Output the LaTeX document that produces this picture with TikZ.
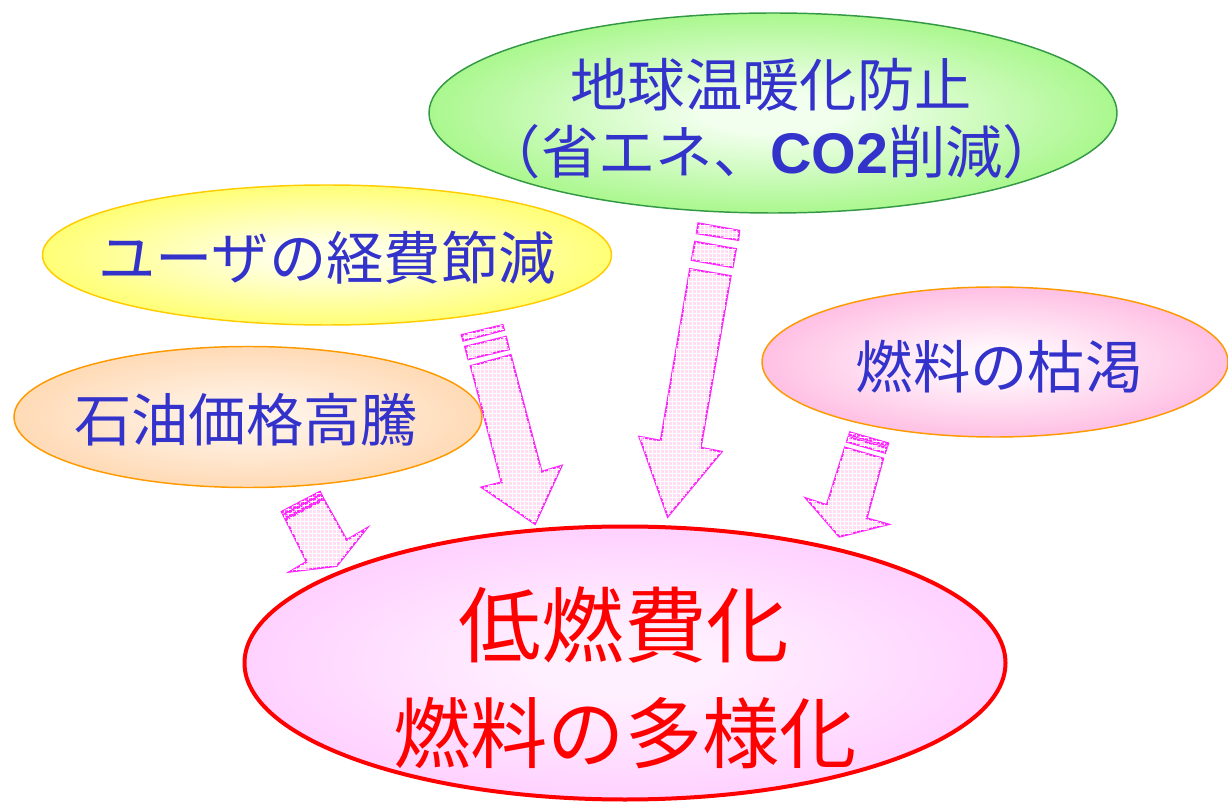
\documentclass[tikz,border=0pt]{standalone}
\usepackage{fontspec}
\newfontfamily\jp{Noto Sans CJK JP}
\newfontfamily\lat{Liberation Sans}
\usetikzlibrary{shapes.geometric,patterns}
\definecolor{txtblue}{HTML}{3333CC}
\definecolor{arrMag}{HTML}{FF22FF}
\definecolor{arrFill}{HTML}{FFDDF2}
\definecolor{gIn}{HTML}{F2FFEE}\definecolor{gOut}{HTML}{66F033}\definecolor{gBorder}{HTML}{339944}
\definecolor{yIn}{HTML}{FFFFE6}\definecolor{yOut}{HTML}{FFFF22}\definecolor{yBorder}{HTML}{FFCC00}
\definecolor{oIn}{HTML}{FFF2E6}\definecolor{oOut}{HTML}{FFC488}\definecolor{oBorder}{HTML}{FF9900}
\definecolor{pIn}{HTML}{FFF6FC}\definecolor{pOut}{HTML}{FF8CCC}\definecolor{pBorder}{HTML}{FF9900}
\definecolor{bIn}{HTML}{FFF0FF}\definecolor{bOut}{HTML}{FFA8FF}\definecolor{bBorder}{HTML}{FF0000}
\pgfdeclareradialshading{shG}{\pgfpointorigin}{color(0bp)=(gIn); color(5bp)=(gIn); color(44bp)=(gOut); color(100bp)=(gOut)}
\pgfdeclareradialshading{shY}{\pgfpointorigin}{color(0bp)=(yIn); color(5bp)=(yIn); color(40bp)=(yOut); color(100bp)=(yOut)}
\pgfdeclareradialshading{shO}{\pgfpointorigin}{color(0bp)=(oIn); color(5bp)=(oIn); color(44bp)=(oOut); color(100bp)=(oOut)}
\pgfdeclareradialshading{shP}{\pgfpointorigin}{color(0bp)=(pIn); color(5bp)=(pIn); color(44bp)=(pOut); color(100bp)=(pOut)}
\pgfdeclareradialshading{shB}{\pgfpointorigin}{color(0bp)=(bIn); color(6bp)=(bIn); color(50bp)=(bOut); color(100bp)=(bOut)}
\tikzset{
  ell/.style={ellipse, inner sep=0pt, outer sep=0pt},
  txt/.style={font=\jp\fontsize{43}{48}\selectfont, text=txtblue, inner sep=0pt},
  redtxt/.style={text=red, inner sep=0pt},
  blockarrow/.style={draw=arrMag, line width=1.4pt, line join=miter, fill=arrFill,
    postaction={pattern=grid, pattern color=white}},
}
\begin{document}
\begin{tikzpicture}[x=0.75pt, y=-0.75pt]
\useasboundingbox (0,0) rectangle (1228,805);
% ellipses
\node[ell, draw=gBorder, line width=1.1pt, shading=shG, minimum width=516pt, minimum height=150pt] (green) at (773,113) {};
\node[ell, draw=yBorder, line width=1.1pt, shading=shY, minimum width=426.75pt, minimum height=105pt] (yellow) at (327,255) {};
\node[ell, draw=oBorder, line width=1.1pt, shading=shO, minimum width=351pt, minimum height=105.75pt] (orange) at (248,417) {};
\node[ell, draw=pBorder, line width=1.1pt, shading=shP, minimum width=349.5pt, minimum height=112.5pt] (pink) at (995,362) {};
\node[ell, draw=bBorder, line width=3pt, shading=shB, minimum width=570.75pt, minimum height=204.75pt] (goal) at (625,663) {};
% texts
\node[txt] (t1) at (771,85) {地球温暖化防止};
\node[txt] (t2) at (772,152) {（省エネ、{\lat\bfseries CO2}削減）};
\node[txt] (t3) at (327,258) {ユーザの経費節減};
\node[txt] (t4) at (246,420) {石油価格高騰};
\node[txt] (t5) at (999,367) {燃料の枯渇};
\node[redtxt, font=\jp\fontsize{62}{70}\selectfont] (t6) at (624,625) {低燃費化};
\node[redtxt, font=\jp\fontsize{58}{66}\selectfont] (t7) at (625,733) {燃料の多様化};
% arrow 1 (orange -> goal)
\path[blockarrow] (281.7,511.7) -- (320,491.7) -- (321.1,493.9) -- (282.8,513.9) -- cycle;
\path[blockarrow] (283.5,515.3) -- (321.8,495.3) -- (323.1,498) -- (284.8,518) -- cycle;
\path[blockarrow] (285.7,519.7) -- (324,499.7) -- (346.7,540) -- (366.7,528.3) -- (336.7,566) -- (290,571.7) -- (306.7,561.7) -- cycle;
% arrow 2 (yellow -> goal)
\path[blockarrow] (461.7,335) -- (502.7,325) -- (504,330) -- (463.3,340.7) -- cycle;
\path[blockarrow] (465,346.7) -- (506,336.7) -- (509,349.3) -- (468.3,359.3) -- cycle;
\path[blockarrow] (470.7,366) -- (510.7,355) -- (541.7,471.7) -- (561.7,465.7) -- (535,524) -- (481.7,487.3) -- (501.7,482.3) -- cycle;
% arrow 3 (green -> goal)
\path[blockarrow] (698.3,223.3) -- (739.3,230.7) -- (738.3,240) -- (696.7,233.3) -- cycle;
\path[blockarrow] (695,241.7) -- (736,249) -- (732.7,267.3) -- (691.7,260) -- cycle;
\path[blockarrow] (690,269) -- (730.7,276) -- (700.7,447.7) -- (721.7,451.7) -- (667.7,516.7) -- (639.3,436.7) -- (660.7,440.7) -- cycle;
% arrow 4 (pink -> goal)
\path[blockarrow] (850,432.3) -- (888.3,443.3) -- (887.5,445.7) -- (849.2,434.7) -- cycle;
\path[blockarrow] (848.4,437) -- (886.7,448) -- (885.1,452.8) -- (846.8,441.8) -- cycle;
\path[blockarrow] (844.9,447.5) -- (883.2,458.5) -- (866.7,518.3) -- (888.3,524.3) -- (839.3,536.7) -- (806,498.3) -- (826.7,505) -- cycle;
\end{tikzpicture}
\end{document}
